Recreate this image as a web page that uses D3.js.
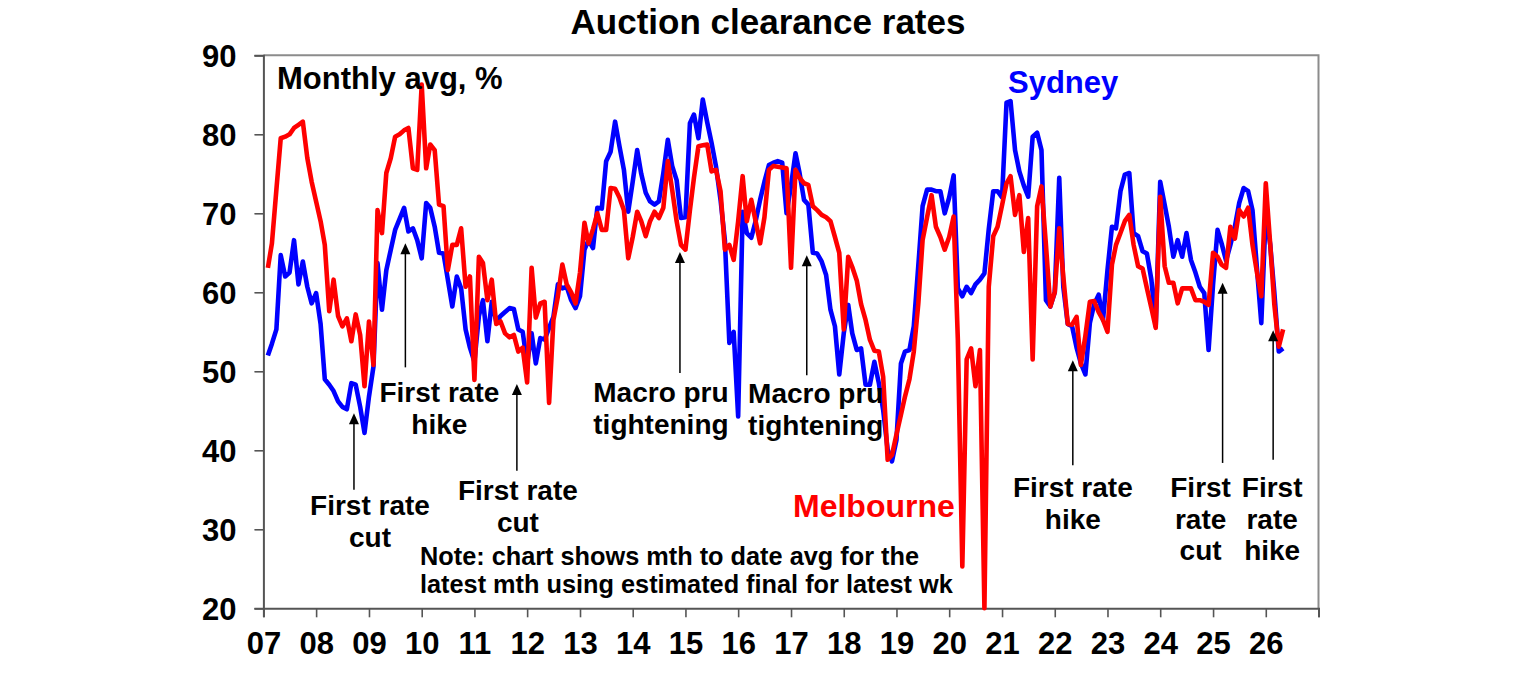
<!DOCTYPE html>
<html>
<head>
<meta charset="utf-8">
<script src="https://cdn.jsdelivr.net/npm/d3@7"></script>
<style>
  body { margin: 0; background: #fff; }
  svg { display: block; font-family: "Liberation Sans", Arial, sans-serif; font-weight: bold; }
</style>
</head>
<body>
<svg id="chart" width="1536" height="680"></svg>
<script>
// monthly averages, first month is Feb 2007
var firstMonth = new Date(2007, 1, 1);

var sydney = [
  52.0, 53.5, 55.3, 64.7, 62.0, 62.5, 66.6, 61.0, 63.9, 60.7, 58.6,           // 2007
  59.9, 56.0, 49.0, 48.3, 47.5, 46.2, 45.5, 45.2, 48.5, 48.3, 45.5, 42.2,     // 2008
  46.8, 50.6, 63.7, 57.8, 62.8, 65.4, 67.9, 69.3, 70.7, 67.7, 68.1, 66.6,     // 2009
  64.3, 71.3, 70.7, 68.3, 65.0, 64.9, 61.6, 58.2, 62.0, 60.5, 55.3, 53.0,     // 2010
  51.2, 57.0, 59.0, 53.8, 58.8, 56.3, 57.0, 57.5, 58.0, 57.9, 55.3, 55.0,     // 2011
  51.0, 54.8, 51.0, 54.2, 54.0, 55.5, 56.9, 61.0, 60.5, 60.7, 59.0, 58.0,     // 2012
  59.5, 65.4, 66.6, 65.6, 70.7, 70.6, 76.6, 77.8, 81.6, 78.5, 75.5, 70.2,     // 2013
  74.0, 78.0, 75.0, 72.6, 71.5, 71.1, 71.5, 75.1, 79.3, 76.0, 74.2, 69.4,     // 2014
  69.5, 81.4, 82.5, 79.5, 84.4, 81.5, 78.9, 75.9, 71.7, 66.6, 53.6, 55.0,     // 2015
  44.3, 70.2, 67.5, 66.9, 69.0, 71.7, 74.0, 76.1, 76.4, 76.6, 76.4, 70.0,     // 2016
  73.5, 77.6, 75.1, 71.7, 71.1, 65.0, 64.9, 63.9, 62.2, 57.8, 55.7, 49.6,     // 2017
  54.8, 58.4, 54.8, 52.7, 52.9, 48.3, 48.3, 51.2, 48.5, 45.1, 40.1, 38.6,     // 2018
  41.3, 51.0, 52.5, 52.7, 55.7, 63.3, 70.9, 73.0, 73.0, 72.8, 72.8, 70.0,     // 2019
  72.0, 74.8, 60.5, 59.5, 60.7, 59.9, 61.0, 61.6, 62.4, 68.0, 72.8, 72.8,     // 2020
  72.0, 84.0, 84.2, 78.0, 75.3, 73.5, 72.1, 79.7, 80.2, 78.0, 59.0, 58.2,     // 2021
  60.0, 74.5, 60.7, 56.0, 55.7, 53.0, 51.0, 49.6, 56.1, 58.5, 59.7, 56.5,     // 2022
  62.8, 68.3, 68.1, 72.8, 74.9, 75.1, 67.5, 67.1, 65.2, 64.9, 61.6, 55.7,     // 2023
  74.0, 71.1, 68.3, 64.5, 66.6, 64.5, 67.5, 64.1, 62.5, 60.7, 59.9, 52.7,     // 2024
  61.0, 67.9, 66.2, 64.0, 66.0, 68.3, 71.3, 73.2, 72.8, 70.4, 63.0, 56.1,     // 2025
  70.0, 66.0, 60.0, 52.5, 52.9                                                // 2026
];

var melbourne = [
  63.1, 66.2, 73.0, 79.5, 79.7, 80.0, 80.8, 81.2, 81.6, 77.0, 74.0,           // 2007
  71.5, 69.0, 66.0, 57.6, 61.6, 57.0, 55.7, 56.7, 53.8, 57.2, 54.6, 48.1,     // 2008
  56.3, 50.8, 70.4, 67.5, 75.1, 77.0, 79.7, 80.0, 80.5, 80.8, 75.7, 75.5,     // 2009
  86.3, 75.7, 78.7, 78.0, 71.1, 70.9, 62.8, 66.0, 66.0, 68.1, 60.7, 62.0,     // 2010
  48.9, 64.5, 63.7, 59.0, 61.6, 56.0, 56.3, 54.8, 54.3, 54.6, 52.5, 53.0,     // 2011
  48.6, 63.1, 56.8, 58.6, 58.8, 46.0, 56.5, 59.5, 63.5, 61.0, 60.0, 58.6,     // 2012
  62.5, 68.8, 66.2, 68.0, 70.0, 67.9, 67.9, 73.2, 73.1, 72.0, 70.4, 64.3,     // 2013
  67.0, 70.2, 69.0, 67.1, 69.0, 70.2, 69.4, 70.7, 76.6, 73.0, 69.0, 66.0,     // 2014
  65.4, 70.4, 74.5, 78.5, 78.6, 78.7, 75.3, 75.5, 72.8, 65.4, 66.0, 64.1,     // 2015
  69.0, 74.7, 69.0, 71.7, 69.0, 66.2, 69.5, 75.5, 76.0, 75.9, 75.8, 75.7,     // 2016
  63.1, 75.5, 74.5, 73.8, 73.6, 70.9, 70.4, 69.8, 69.5, 69.0, 67.0, 65.0,     // 2017
  55.3, 64.5, 63.2, 61.5, 58.5, 56.5, 54.0, 52.6, 52.5, 49.3, 38.8, 39.4,     // 2018
  42.0, 44.5, 46.8, 49.0, 52.5, 58.5, 66.6, 69.5, 72.3, 68.3, 67.0, 65.4,     // 2019
  67.0, 69.6, 54.0, 25.3, 51.5, 52.9, 48.1, 52.7, 20.0, 60.7, 67.1, 68.3,     // 2020
  71.0, 73.8, 74.7, 69.8, 72.3, 65.1, 69.4, 51.5, 70.9, 73.4, 66.0, 58.2,     // 2021
  60.0, 68.1, 62.0, 56.0, 55.9, 56.9, 50.8, 54.5, 58.8, 58.9, 57.5, 56.5,     // 2022
  55.0, 63.5, 66.0, 67.5, 69.0, 69.8, 66.0, 63.3, 63.0, 60.5, 58.0, 55.5,     // 2023
  72.1, 63.3, 61.2, 61.2, 58.6, 60.5, 60.5, 60.5, 59.0, 59.0, 58.8, 58.4,     // 2024
  65.0, 64.5, 63.5, 63.1, 68.3, 66.8, 70.4, 69.6, 70.7, 66.0, 62.5, 59.5,     // 2025
  73.8, 66.0, 58.5, 53.1, 55.3                                                // 2026
];

var yearLabels = ['07','08','09','10','11','12','13','14','15','16',
                  '17','18','19','20','21','22','23','24','25','26'];
var yTicks = [20, 30, 40, 50, 60, 70, 80, 90];

// arrows: date + value for tip and tail, text dx in px, first baseline as value
var notes = [
  {lines: ['First rate', 'cut'],         at: new Date(2008, 8, 19),  tip: 44.7, tail: 35.0, dx: 16,  base: 31.8},
  {lines: ['First rate', 'hike'],        at: new Date(2009, 8, 10),  tip: 66.2, tail: 50.5, dx: 34,  base: 46.1},
  {lines: ['First rate', 'cut'],         at: new Date(2011, 9, 22),  tip: 48.4, tail: 37.4, dx: 1,   base: 33.7},
  {lines: ['Macro pru', 'tightening'],   at: new Date(2014, 10, 24), tip: 65.1, tail: 49.8, dx: -19, base: 46.1},
  {lines: ['Macro pru', 'tightening'],   at: new Date(2017, 3, 20),  tip: 64.7, tail: 49.5, dx: 9,   base: 46.0},
  {lines: ['First rate', 'hike'],        at: new Date(2022, 4, 6),   tip: 51.4, tail: 38.1, dx: 0,   base: 34.1},
  {lines: ['First', 'rate', 'cut'],      at: new Date(2025, 2, 8),   tip: 61.2, tail: 38.4, dx: -22, base: 34.1},
  {lines: ['First', 'rate', 'hike'],     at: new Date(2026, 1, 21),  tip: 55.2, tail: 38.8, dx: -1,  base: 34.1}
];

var svg = d3.select('#chart');

var x = d3.scaleTime()
          .domain([new Date(2007, 0, 1), new Date(2027, 0, 1)])
          .range([263.4, 1318.5]);
var y = d3.scaleLinear().domain([20, 90]).range([608.3, 55.3]);

function monthOf(i) { return d3.timeMonth.offset(firstMonth, i); }

// frame (top + right)
svg.append('path')
   .attr('d', 'M' + x.range()[0] + ',' + y(90) + 'H' + x.range()[1] + 'V' + y(20))
   .attr('fill', 'none')
   .attr('stroke', '#8c8c8c')
   .attr('stroke-width', 2);

// x axis
var yearTicks = d3.range(2007, 2028).map(function(yr) { return new Date(yr, 0, 1); });
var xAxis = svg.append('g')
   .attr('transform', 'translate(0,' + y(20) + ')')
   .call(d3.axisBottom(x)
           .tickValues(yearTicks)
           .tickSize(9)
           .tickPadding(15)
           .tickFormat(function(d, i) { return yearLabels[i] || ''; }));

// y axis
var yAxis = svg.append('g')
   .attr('transform', 'translate(' + x.range()[0] + ',0)')
   .call(d3.axisLeft(y).tickValues(yTicks).tickSize(9).tickPadding(18));

[xAxis, yAxis].forEach(function(g) {
  g.attr('font-family', null).attr('font-size', null);
  g.select('.domain').attr('stroke', '#555').attr('stroke-width', 2);
  g.selectAll('.tick line').attr('stroke', '#555').attr('stroke-width', 1.6);
  g.selectAll('.tick text').attr('fill', '#000').style('font-size', '31px');
});
yAxis.selectAll('.tick text').attr('dy', '0.36em');

// lines
var line = d3.line()
             .x(function(d, i) { return x(monthOf(i)); })
             .y(function(d) { return y(d); });

svg.append('path').datum(sydney)
   .attr('d', line)
   .attr('fill', 'none')
   .attr('stroke', '#0000ff')
   .attr('stroke-width', 4.6)
   .attr('stroke-linejoin', 'round');

svg.append('path').datum(melbourne)
   .attr('d', line)
   .attr('fill', 'none')
   .attr('stroke', '#ff0000')
   .attr('stroke-width', 4.6)
   .attr('stroke-linejoin', 'round');

// annotations
var noteG = svg.selectAll('.note').data(notes).enter().append('g').attr('class', 'note');

noteG.append('line')
     .attr('x1', function(d) { return x(d.at); })
     .attr('x2', function(d) { return x(d.at); })
     .attr('y1', function(d) { return y(d.tail); })
     .attr('y2', function(d) { return y(d.tip) + 9; })
     .attr('stroke', '#000')
     .attr('stroke-width', 1.5);

noteG.append('path')
     .attr('d', function(d) {
       var px = x(d.at), py = y(d.tip);
       return 'M' + (px - 5) + ',' + (py + 11) + 'L' + px + ',' + py + 'L' + (px + 5) + ',' + (py + 11) + 'Z';
     })
     .attr('fill', '#000');

noteG.each(function(d) {
  var t = d3.select(this).append('text')
            .attr('text-anchor', 'middle')
            .style('font-size', '28px')
            .attr('fill', '#000');
  d.lines.forEach(function(s, i) {
    t.append('tspan')
     .attr('x', x(d.at) + d.dx)
     .attr('y', y(d.base) + i * 31.6)
     .text(s);
  });
});

// titles and labels
svg.append('text')
   .attr('x', 768).attr('y', 34)
   .attr('text-anchor', 'middle')
   .style('font-size', '35px')
   .text('Auction clearance rates');

svg.append('text')
   .attr('x', 277).attr('y', 89)
   .style('font-size', '31px')
   .text('Monthly avg, %');

svg.append('text')
   .attr('x', 1008).attr('y', 93)
   .style('font-size', '31px')
   .attr('fill', '#0000ff')
   .text('Sydney');

svg.append('text')
   .attr('x', 793).attr('y', 517)
   .style('font-size', '32px')
   .attr('fill', '#ff0000')
   .text('Melbourne');

var note = svg.append('text').attr('x', 420).style('font-size', '25.3px');
note.append('tspan').attr('x', 420).attr('y', 565).text('Note: chart shows mth to date avg for the');
note.append('tspan').attr('x', 420).attr('y', 593).text('latest mth using estimated final for latest wk');
</script>
</body>
</html>
